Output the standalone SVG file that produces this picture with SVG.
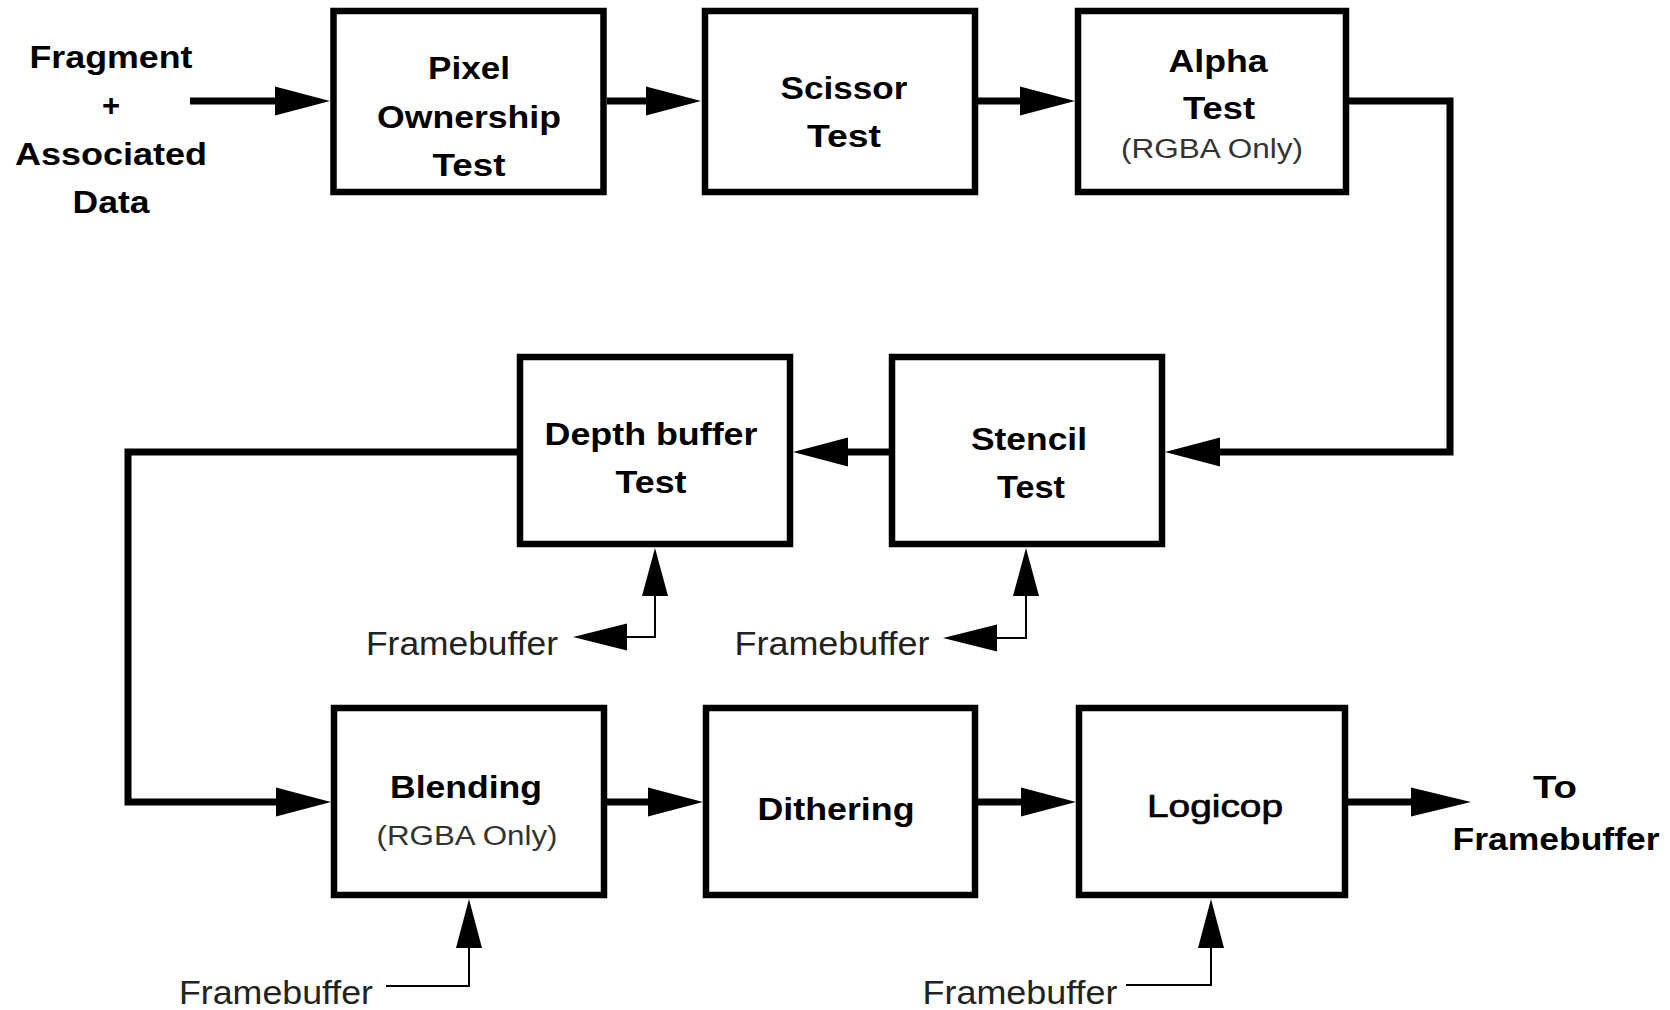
<svg xmlns="http://www.w3.org/2000/svg" width="1670" height="1010" viewBox="0 0 1670 1010">
<style>
.box{fill:#fff;stroke:#000;stroke-width:6.5}
.thick{fill:none;stroke:#000;stroke-width:7}
.thin{fill:none;stroke:#000;stroke-width:2}
.head{fill:#000}
.b{font-family:"Liberation Sans",Arial,sans-serif;font-weight:bold;font-size:31px;fill:#000;text-anchor:middle}
.m{font-family:"Liberation Sans",Arial,sans-serif;font-size:31px;fill:#000;stroke:#000;stroke-width:0.7;text-anchor:middle}
.s{font-family:"Liberation Sans",Arial,sans-serif;font-size:27px;fill:#333;text-anchor:middle}
.f{font-family:"Liberation Sans",Arial,sans-serif;font-size:33px;fill:#222;text-anchor:middle}
</style>
<rect width="1670" height="1010" fill="#fff"/>
<g id="input">
<text class="b" x="111" y="68" textLength="163" lengthAdjust="spacingAndGlyphs">Fragment</text>
<text class="b" x="111" y="116">+</text>
<text class="b" x="111" y="165" textLength="192" lengthAdjust="spacingAndGlyphs">Associated</text>
<text class="b" x="111" y="213" textLength="77" lengthAdjust="spacingAndGlyphs">Data</text>
</g>
<g id="pixel">
<rect class="box" x="333.5" y="11" width="270" height="181"/>
<text class="b" x="469" y="79" textLength="82" lengthAdjust="spacingAndGlyphs">Pixel</text>
<text class="b" x="469" y="128" textLength="184" lengthAdjust="spacingAndGlyphs">Ownership</text>
<text class="b" x="469" y="176" textLength="73" lengthAdjust="spacingAndGlyphs">Test</text>
</g>
<g id="scissor">
<rect class="box" x="705" y="11" width="270" height="181"/>
<text class="b" x="844" y="99" textLength="127" lengthAdjust="spacingAndGlyphs">Scissor</text>
<text class="b" x="844" y="147" textLength="74" lengthAdjust="spacingAndGlyphs">Test</text>
</g>
<g id="alpha">
<rect class="box" x="1078" y="11" width="268" height="181"/>
<text class="b" x="1218" y="72" textLength="99" lengthAdjust="spacingAndGlyphs">Alpha</text>
<text class="b" x="1219" y="119" textLength="72" lengthAdjust="spacingAndGlyphs">Test</text>
<text class="s" x="1212" y="158" textLength="182" lengthAdjust="spacingAndGlyphs">(RGBA Only)</text>
</g>
<g id="depth">
<rect class="box" x="520" y="357" width="270" height="187"/>
<text class="b" x="651" y="445" textLength="213" lengthAdjust="spacingAndGlyphs">Depth buffer</text>
<text class="b" x="651" y="493" textLength="71" lengthAdjust="spacingAndGlyphs">Test</text>
</g>
<g id="stencil">
<rect class="box" x="892" y="357" width="270" height="187"/>
<text class="b" x="1029" y="450" textLength="116" lengthAdjust="spacingAndGlyphs">Stencil</text>
<text class="b" x="1031" y="498" textLength="68" lengthAdjust="spacingAndGlyphs">Test</text>
</g>
<g id="blending">
<rect class="box" x="334" y="708" width="270" height="187"/>
<text class="b" x="466" y="798" textLength="152" lengthAdjust="spacingAndGlyphs">Blending</text>
<text class="s" x="467" y="845" textLength="181" lengthAdjust="spacingAndGlyphs">(RGBA Only)</text>
</g>
<g id="dithering">
<rect class="box" x="706" y="708" width="269" height="187"/>
<text class="b" x="836" y="820" textLength="157" lengthAdjust="spacingAndGlyphs">Dithering</text>
</g>
<g id="logicop">
<rect class="box" x="1079" y="708" width="266" height="187"/>
<text class="m" x="1215" y="817" textLength="136" lengthAdjust="spacingAndGlyphs">Logicop</text>
</g>
<g id="output">
<text class="b" x="1555" y="798" textLength="44" lengthAdjust="spacingAndGlyphs">To</text>
<text class="b" x="1556" y="850" textLength="207" lengthAdjust="spacingAndGlyphs">Framebuffer</text>
</g>
<g id="fb-labels">
<text class="f" x="462" y="655" textLength="192" lengthAdjust="spacingAndGlyphs">Framebuffer</text>
<text class="f" x="832" y="655" textLength="195" lengthAdjust="spacingAndGlyphs">Framebuffer</text>
<text class="f" x="276" y="1004" textLength="194" lengthAdjust="spacingAndGlyphs">Framebuffer</text>
<text class="f" x="1020" y="1004" textLength="195" lengthAdjust="spacingAndGlyphs">Framebuffer</text>
</g>
<g id="connectors">
<path class="thick" d="M190,101 H280"/>
<polygon class="head" points="275,86.5 330,101 275,115.5"/>
<path class="thick" d="M607,101 H650"/>
<polygon class="head" points="646,86.5 701,101 646,115.5"/>
<path class="thick" d="M978,101 H1025"/>
<polygon class="head" points="1020,86.5 1075,101 1020,115.5"/>
<path class="thick" d="M1349,101 H1450 V452 H1215"/>
<polygon class="head" points="1220,437.5 1165,452 1220,466.5"/>
<path class="thick" d="M889,452 H843"/>
<polygon class="head" points="848,437.5 793,452 848,466.5"/>
<path class="thick" d="M517,452 H128 V802 H280"/>
<polygon class="head" points="276,787.5 331,802 276,816.5"/>
<path class="thick" d="M607,802 H652"/>
<polygon class="head" points="648,787.5 703,802 648,816.5"/>
<path class="thick" d="M978,802 H1025"/>
<polygon class="head" points="1021,787.5 1076,802 1021,816.5"/>
<path class="thick" d="M1348,802 H1415"/>
<polygon class="head" points="1411,787.5 1471,802 1411,816.5"/>
<path class="thin" d="M655,596 V637 H625"/>
<polygon class="head" points="642,596 655,548 668,596"/>
<polygon class="head" points="627,623.5 573,637 627,650.5"/>
<path class="thin" d="M1026,596 V638 H995"/>
<polygon class="head" points="1013,596 1026,548 1039,596"/>
<polygon class="head" points="997,624.5 943,638 997,651.5"/>
<path class="thin" d="M386,986 H469 V946"/>
<polygon class="head" points="456,948 469,899 482,948"/>
<path class="thin" d="M1126,985 H1211 V946"/>
<polygon class="head" points="1198,948 1211,899 1224,948"/>
</g>
</svg>
